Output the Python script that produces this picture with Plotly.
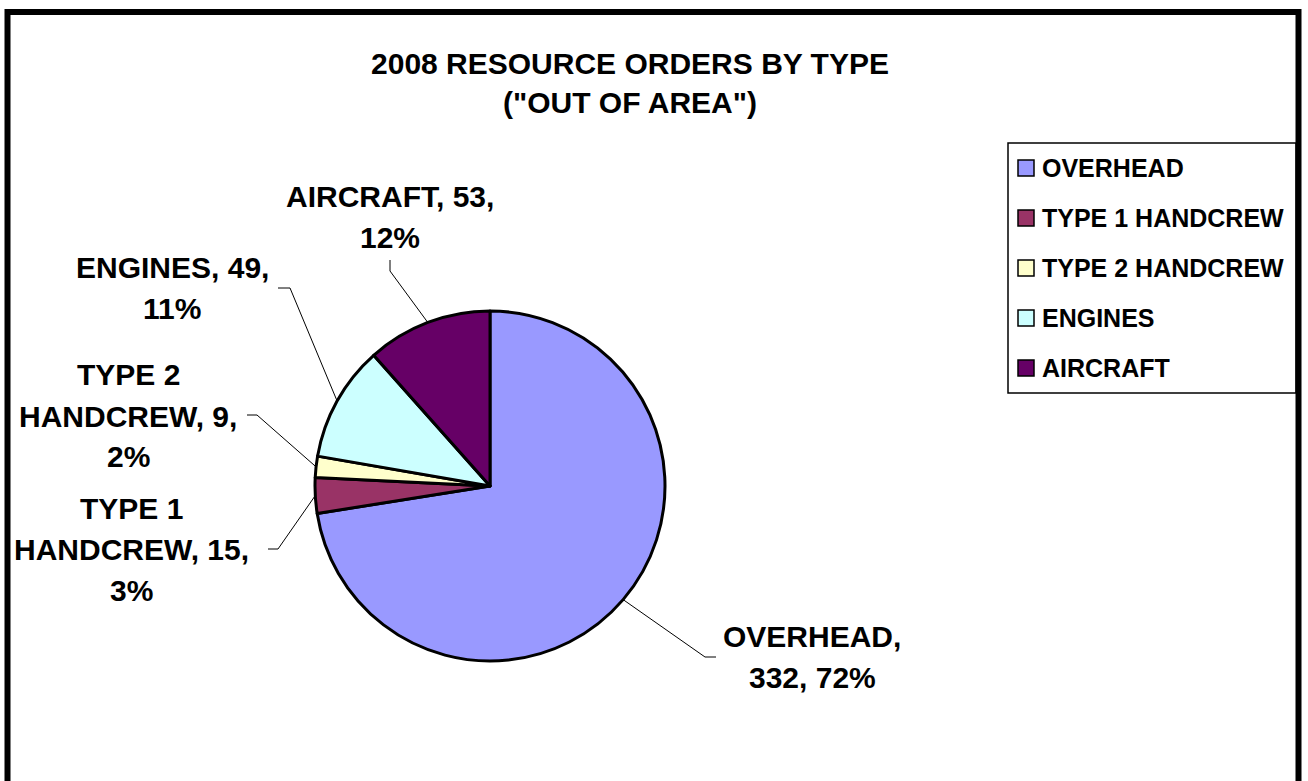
import math
import textwrap
import plotly.graph_objects as go

# ---------------- data ----------------
categories = ["OVERHEAD", "TYPE 1 HANDCREW", "TYPE 2 HANDCREW", "ENGINES", "AIRCRAFT"]
orders = [332, 15, 9, 49, 53]
colors = ["#9999FF", "#993366", "#FFFFCC", "#CCFFFF", "#660066"]
title_lines = ["2008 RESOURCE ORDERS BY TYPE", '("OUT OF AREA")']

# ---------------- layout constants (pixels) ----------------
W, H = 1308, 781
CX, CY, R = 490, 486, 175          # pie centre / radius
FONT = "Liberation Sans, Arial, sans-serif"
LABEL_SIZE = 30
LABEL_LS = 41                       # label line spacing
LEGEND_SIZE = 25

# label block centre, leader-line end and elbow (pixels)
LABEL_LAYOUT = {
    "OVERHEAD":        dict(center=(812, 657), end=(716, 657), elbow=(705, 657)),
    "TYPE 1 HANDCREW": dict(center=(131, 549), end=(268, 549), elbow=(278, 549)),
    "TYPE 2 HANDCREW": dict(center=(128, 416), end=(247, 415), elbow=(257, 415)),
    "ENGINES":         dict(center=(172, 288), end=(278, 288), elbow=(290, 288)),
    "AIRCRAFT":        dict(center=(390, 217), end=(390, 260), elbow=(390, 271)),
}


def px(x):
    return x / W


def py(y):
    return 1 - y / H


total = sum(orders)

fig = go.Figure()
fig.add_trace(go.Pie(
    labels=categories,
    values=orders,
    sort=False,
    direction="clockwise",
    rotation=0,
    marker=dict(colors=colors, line=dict(color="black", width=3)),
    textinfo="none",
    hovertemplate="%{label}: %{value} (%{percent})<extra></extra>",
    domain=dict(x=[px(CX - R), px(CX + R)], y=[py(CY + R), py(CY - R)]),
    showlegend=False,
))

shapes = []
annotations = []

# ---- outside labels with leader lines (angles from data) ----
cum = 0
for name, val in zip(categories, orders):
    mid = (cum + val / 2) / total * 2 * math.pi
    cum += val
    ex = CX + R * math.sin(mid)
    ey = CY - R * math.cos(mid)
    cfg = LABEL_LAYOUT[name]
    (bx, by), (nx, ny), (cx, cy) = cfg["elbow"], cfg["end"], cfg["center"]
    shapes.append(dict(
        type="path", xref="paper", yref="paper",
        path=f"M {px(ex)},{py(ey)} L {px(bx)},{py(by)} L {px(nx)},{py(ny)}",
        line=dict(color="black", width=1),
    ))
    pct = round(100 * val / total)
    text = f"{name}, {val}, {pct}%"
    lines = textwrap.wrap(text, 13)
    n = len(lines)
    for i, ln in enumerate(lines):
        annotations.append(dict(
            x=px(cx), y=py(cy + (i - (n - 1) / 2) * LABEL_LS),
            xref="paper", yref="paper", xanchor="center", yanchor="middle",
            text=ln, showarrow=False,
            font=dict(family=FONT, size=LABEL_SIZE, color="black", weight="bold"),
        ))

# ---- legend (drawn manually to match spacing) ----
LEG_BOX = (1008, 143, 1296, 393)
shapes.append(dict(type="rect", xref="paper", yref="paper",
                   x0=px(LEG_BOX[0]), x1=px(LEG_BOX[2]),
                   y0=py(LEG_BOX[3]), y1=py(LEG_BOX[1]),
                   line=dict(color="black", width=1.5), fillcolor="white", layer="below"))
LEG_Y0, LEG_STEP = 168, 50
for i, (name, col) in enumerate(zip(categories, colors)):
    yc = LEG_Y0 + i * LEG_STEP
    shapes.append(dict(type="rect", xref="paper", yref="paper",
                       x0=px(1018), x1=px(1034), y0=py(yc + 8), y1=py(yc - 8),
                       fillcolor=col, line=dict(color="black", width=1.5)))
    annotations.append(dict(
        x=px(1040), y=py(yc), xref="paper", yref="paper",
        xanchor="left", yanchor="middle", text=name, showarrow=False,
        font=dict(family=FONT, size=LEGEND_SIZE, color="black", weight="bold"),
    ))

# ---- outer frame ----
shapes.append(dict(type="rect", xref="paper", yref="paper",
                   x0=px(7.5), x1=px(1298.5), y0=-0.2, y1=py(12),
                   line=dict(color="black", width=6), fillcolor="rgba(0,0,0,0)"))

fig.update_layout(
    width=W, height=H,
    margin=dict(l=0, r=0, t=0, b=0),
    paper_bgcolor="white", plot_bgcolor="white",
    title=dict(
        text="<br>".join(title_lines),
        x=px(630), xanchor="center",
        y=py(74), yanchor="middle", yref="container",
        font=dict(family=FONT, size=30, color="black", weight="bold"),
    ),
    shapes=shapes,
    annotations=annotations,
    showlegend=False,
)

fig.write_html(
    "out.html",
    config={"displayModeBar": False},
    post_script="document.body.style.margin='0px';document.body.style.overflow='hidden';",
)
